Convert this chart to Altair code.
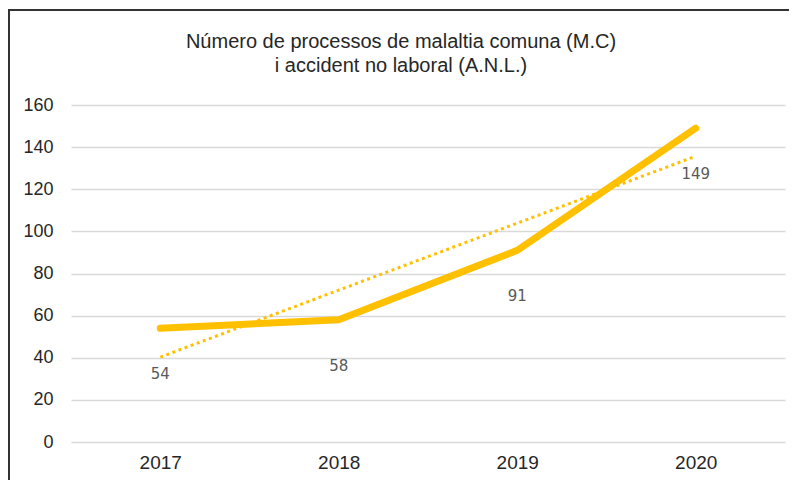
import altair as alt
import pandas as pd

years = [2017, 2018, 2019, 2020]
values = [54, 58, 91, 149]
y_ticks = [0, 20, 40, 60, 80, 100, 120, 140, 160]
title_lines = ["Número de processos de malaltia comuna (M.C)", "i accident no laboral (A.N.L.)"]

df = pd.DataFrame({"year": years, "value": values})

GOLD = "#FFC000"
W, H = 714, 337

base = alt.Chart(df)

x_enc = alt.X(
    "year:Q",
    scale=alt.Scale(domain=[2016.5, 2020.5], nice=False, zero=False),
    axis=alt.Axis(
        values=years, format="d", title=None, grid=False, domain=False, ticks=False,
        labelFont="Liberation Sans", labelFontSize=19, labelColor="#262626", labelPadding=11,
    ),
)
y_enc = alt.Y(
    "value:Q",
    scale=alt.Scale(domain=[0, 160], nice=False),
    axis=alt.Axis(
        values=y_ticks, title=None, domain=False, ticks=False,
        gridColor="#d9d9d9", gridWidth=1.5,
        labelFont="Liberation Sans", labelFontSize=18, labelColor="#262626", labelPadding=18,
    ),
)

line = base.mark_line(color=GOLD, strokeWidth=7, strokeCap="round", strokeJoin="round").encode(
    x=x_enc, y=y_enc
)

trend = base.transform_regression("year", "value").mark_line(
    color=GOLD, strokeWidth=3, strokeDash=[3, 3.5]
).encode(x="year:Q", y="value:Q")

labels = base.mark_text(
    dy=46, font="DejaVu Sans", fontSize=15, color="#595959"
).encode(x="year:Q", y="value:Q", text="value:Q")

title = alt.Chart(alt.Data(values=[{"t": "\n".join(title_lines)}])).mark_text(
    font="Liberation Sans", fontSize=20, color="#262626", lineBreak="\n", lineHeight=24,
    align="center", baseline="top",
).encode(x=alt.value(330), y=alt.value(-73), text="t:N")

border_top = alt.Chart(df).mark_rule(color="#333333", strokeWidth=2).encode(
    x=alt.value(-62), x2=alt.value(W + 20), y=alt.value(-95)
)
border_left = alt.Chart(df).mark_rule(color="#333333", strokeWidth=2).encode(
    x=alt.value(-62), y=alt.value(-96), y2=alt.value(H + 60)
)

chart = alt.layer(trend, line, labels, title, border_top, border_left).properties(
    width=W,
    height=H,
    autosize=alt.AutoSizeParams(type="none"),
    padding={"left": 63, "top": 97, "right": 4, "bottom": 38},
).configure_view(stroke=None)

chart.save("out.html", embed_options={"renderer": "svg", "actions": False})
